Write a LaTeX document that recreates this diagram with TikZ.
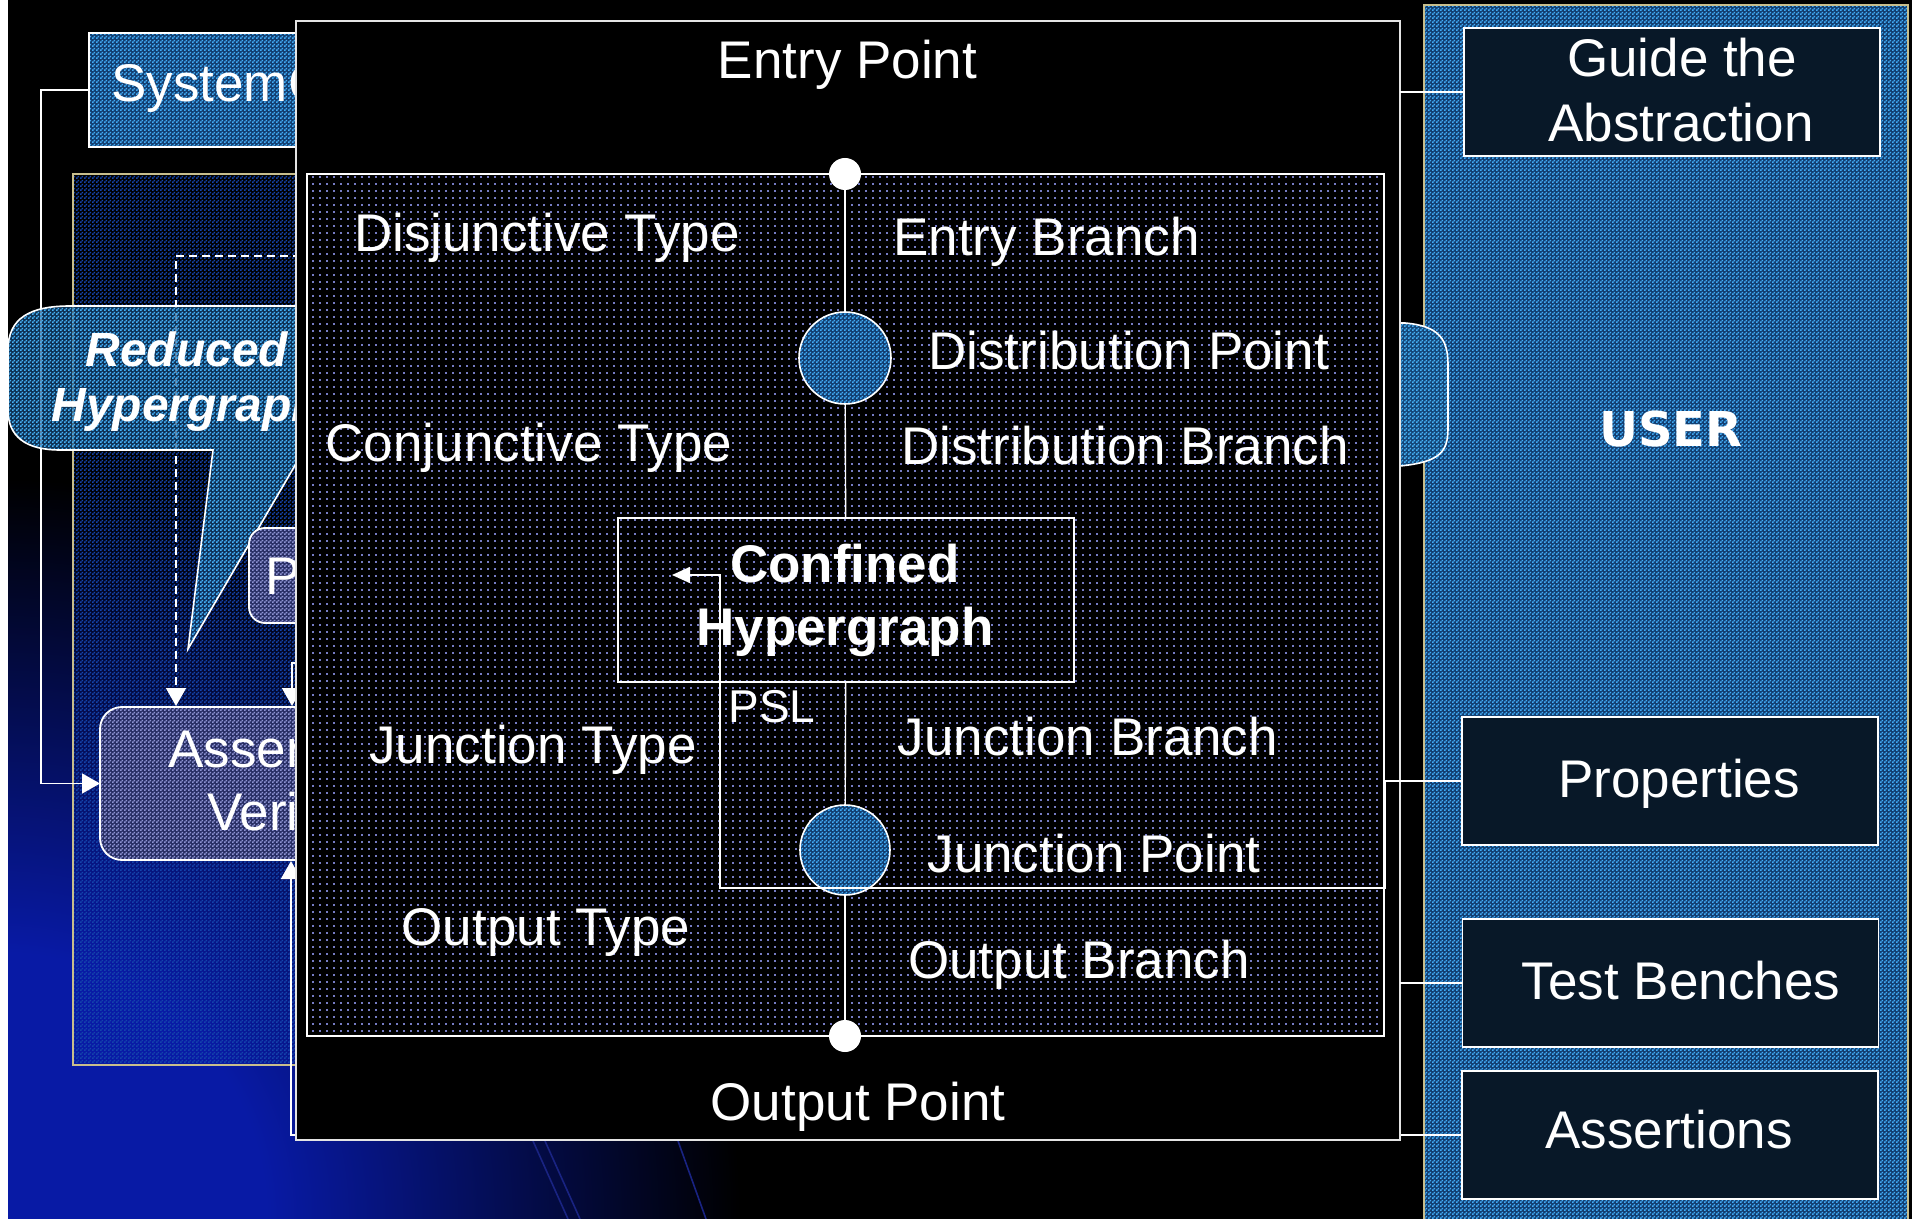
\documentclass[tikz,border=0pt]{standalone}
\usepackage{fontspec}
\setmainfont{Liberation Sans}
\newfontfamily\userfont{DejaVu Sans}
\usetikzlibrary{arrows.meta,patterns}

\definecolor{chkblue}{RGB}{66,172,246}
\definecolor{chkbase}{RGB}{18,62,112}
\definecolor{callblue}{RGB}{70,178,246}
\definecolor{callbase}{RGB}{20,70,120}
\definecolor{panelblue}{RGB}{20,68,172}
\definecolor{lav}{RGB}{142,148,212}
\definecolor{lavbase}{RGB}{40,46,100}
\definecolor{dotc}{RGB}{118,124,196}
\definecolor{navybox}{RGB}{8,24,40}
\definecolor{glowc}{RGB}{8,26,165}
\definecolor{lineg}{RGB}{228,228,228}
\definecolor{goldl}{RGB}{200,190,140}
\definecolor{streak}{RGB}{25,35,130}

\pgfdeclarepatternformonly{chk}{\pgfqpoint{0pt}{0pt}}{\pgfqpoint{2pt}{2pt}}{\pgfqpoint{2pt}{2pt}}{%
  \pgfpathrectangle{\pgfqpoint{0pt}{0pt}}{\pgfqpoint{1pt}{1pt}}%
  \pgfpathrectangle{\pgfqpoint{1pt}{1pt}}{\pgfqpoint{1pt}{1pt}}%
  \pgfusepath{fill}}
\pgfdeclarepatternformonly{dotz}{\pgfqpoint{0pt}{0pt}}{\pgfqpoint{3.3pt}{3.3pt}}{\pgfqpoint{3.3pt}{3.3pt}}{%
  \pgfpathrectangle{\pgfqpoint{1.1pt}{1.1pt}}{\pgfqpoint{1pt}{1pt}}%
  \pgfusepath{fill}}
\pgfdeclareradialshading{bgglow}{\pgfpoint{0bp}{0bp}}{color(0bp)=(glowc); color(9bp)=(glowc); color(25bp)=(black); color(50bp)=(black)}

\newcommand\fA{\fontsize{26.5}{30}\selectfont}
\newcommand\fP{\fontsize{23}{27}\selectfont}
\newcommand\fR{\fontsize{24}{28}\selectfont\bfseries\itshape}
\newcommand\fU{\fontsize{24}{28}\selectfont\userfont\bfseries}

\begin{document}
\begin{tikzpicture}[x=0.5pt,y=-0.5pt,
  box/.style={inner sep=0pt, outer sep=0pt},
  conn/.style={draw=white, line width=0.8pt},
  tip/.style={-{Triangle[length=9pt,width=10pt]}},
  smalltip/.style={-{Triangle[length=9pt,width=8pt]}},
  lbl/.style={text=white, font=\fA, inner sep=0pt, anchor=base},
  lblw/.style={lbl, anchor=base west},
  chkfill/.style={pattern=chk, pattern color=#1},
  chkbg/.style 2 args={preaction={fill=#1}, pattern=chk, pattern color=#2},
  rbox/.style={box, fill=navybox, draw=white, line width=0.9pt, minimum width=208pt, minimum height=64pt}
]
\useasboundingbox (0,0) rectangle (1912,1219);
% background
\fill[black] (0,0) rectangle (1912,1219);
\begin{scope}
  \clip (0,0) rectangle (1912,1219);
  \shade[shading=bgglow] (0,1219) circle[radius=370pt];
  \draw[streak, line width=0.8pt] (533,1141) -- (568,1219);
  \draw[streak, line width=0.8pt] (545,1141) -- (580,1219);
  \draw[streak, line width=0.8pt] (678,1141) -- (706,1219);
\end{scope}
\fill[white] (0,0) rectangle (8,1219);

% left cluster
\begin{scope}
\clip (0,0) rectangle (296,1219);
\node[box, chkfill=panelblue, draw=goldl, line width=0.8pt,
      minimum width=133.5pt, minimum height=445.5pt] (lpanel) at (206.5,619.5) {};
\node[box, chkbg={chkbase}{chkblue}, draw=white, line width=0.9pt,
      minimum width=125.5pt, minimum height=57pt] (sysc) at (214.5,90) {};
\node[lblw] (syst) at (111,102) {SystemC};
\node[box, rounded corners=11pt, chkbg={lavbase}{lav}, draw=white, line width=0.9pt,
      minimum width=160pt, minimum height=76.5pt] (avbox) at (260,783.5) {};
\coordinate (dsrc) at (340,256);
\coordinate (avin1) at (176,706);
\coordinate (sysbend) at (41,90);
\draw[conn, dashed, dash pattern=on 4pt off 2.5pt, tip] (dsrc) -| (avin1);
\draw[conn, tip] (sysc.west) -- (sysbend) |- (avbox.west);
% callout
\draw[white, line width=0.8pt, preaction={fill=callbase, fill opacity=0.7}, chkfill=callblue]
  (8,350) .. controls (8,318) and (30,306) .. (70,306) -- (420,306) -- (420,450)
  -- (304,450) -- (188,649) -- (213,450) -- (60,450)
  .. controls (25,450) and (8,436) .. (8,410) -- cycle;
\node[text=white, font=\fR, inner sep=0pt, anchor=base west] (red1) at (85,367) {Reduced};
\node[text=white, font=\fR, inner sep=0pt, anchor=base west] (red2) at (51,422) {Hypergraph};
\node[box, rounded corners=8pt, chkbg={lavbase}{lav}, draw=white, line width=0.9pt,
      minimum width=85.5pt, minimum height=47.5pt] (pslbox) at (334.5,575.5) {};
\node[lblw] (pslt) at (265,595) {PSL};
\coordinate (pslsrc) at (320,663);
\coordinate (avin3) at (292,706);
\draw[conn, tip] (pslsrc) -| (avin3);
\node[lblw] (av1) at (168,767) {Assertion};
\node[lblw] (av2) at (207,830) {Verification};
\end{scope}

% USER panel
\node[box, chkbg={chkbase}{chkblue}, draw=goldl, line width=0.8pt,
      minimum width=242pt, minimum height=610pt] (user) at (1666,615) {};
\draw[white, line width=0.8pt, chkbg={callbase}{callblue}] (1380,323) -- (1405,323)
  .. controls (1440,326) and (1448,340) .. (1448,365) -- (1448,428)
  .. controls (1448,452) and (1440,462) .. (1400,466) -- (1380,466) -- cycle;
\node[text=white, font=\fU, inner sep=0pt, anchor=base] (usert) at (1671,447) {USER};
\node[rbox] (guide) at (1672,92) {};
\node[lbl] (guide1) at (1682,77) {Guide the};
\node[lbl] (guide2) at (1681,142) {Abstraction};
\node[rbox] (props) at (1670,781) {};
\node[lbl] (propst) at (1679,797) {Properties};
\node[rbox] (tb) at (1670.5,983) {};
\node[lbl] (tbt) at (1681,999) {Test Benches};
\node[rbox] (asr) at (1670,1135) {};
\node[lbl] (asrt) at (1669,1148) {Assertions};
\coordinate (avin2) at (291,861);
\draw[conn, tip] (asr.west) -| (avin2);

% main box
\node[box, fill=black, draw=lineg, line width=0.9pt,
      minimum width=552pt, minimum height=559.5pt] (main) at (848,580.5) {};
\node[box, pattern=dotz, pattern color=dotc, draw=white, line width=0.8pt,
      minimum width=538.5pt, minimum height=431pt] (inner) at (845.5,605) {};
\node[lbl] (entryt) at (847.5,79) {Entry Point};
\node[lbl] (outt) at (858,1120) {Output Point};

\node[box, draw=white, line width=0.7pt, minimum width=228pt, minimum height=82pt] (conf) at (846,600) {};
\node[lbl, font=\fA\bfseries] (conf1) at (845,582) {Confined};
\node[lbl, font=\fA\bfseries] (conf2) at (845,645) {Hypergraph};

\node[box, circle, fill=white, minimum size=16pt] (entry) at (845,174) {};
\node[box, circle, chkbg={chkbase}{chkblue}, draw=white, line width=0.8pt, minimum size=46pt] (dist) at (845,358) {};
\node[box, circle, chkbg={chkbase}{chkblue}, draw=white, line width=0.8pt, minimum size=45pt] (junc) at (845,850) {};
\node[box, circle, fill=white, minimum size=16pt] (outp) at (845,1036) {};
\draw[conn, line width=0.7pt] (entry) -- (dist);
\draw[conn, line width=0.7pt] (dist) -- (conf);
\draw[conn, line width=0.7pt] (conf) -- (junc);
\draw[conn, line width=0.7pt] (junc) -- (outp);

\node[lbl] (disj) at (547,252) {Disjunctive Type};
\node[lblw] (entb) at (893,256) {Entry Branch};
\node[lblw] (distp) at (928,370) {Distribution Point};
\node[lbl] (conj) at (529,462) {Conjunctive Type};
\node[lbl] (distb) at (1125,465) {Distribution Branch};
\node[lbl] (junt) at (533,763) {Junction Type};
\node[lbl] (junb) at (1088,755) {Junction Branch};
\node[lbl] (junp) at (1094,872) {Junction Point};
\node[lbl] (outty) at (546,945) {Output Type};
\node[lbl] (outb) at (1079,978) {Output Branch};
\node[text=white, font=\fP, inner sep=0pt, anchor=base west] (psl) at (728,722) {PSL};

\coordinate (pslin) at (672,575);
\draw[conn, smalltip] (props.west) -- (1385,781) -- (1385,888) -- (720,888) -- (720,575) -- (pslin);
\draw[conn] (main.east |- guide.west) -- (guide.west);
\draw[conn] (main.east |- tb.west) -- (tb.west);
\end{tikzpicture}
\end{document}
